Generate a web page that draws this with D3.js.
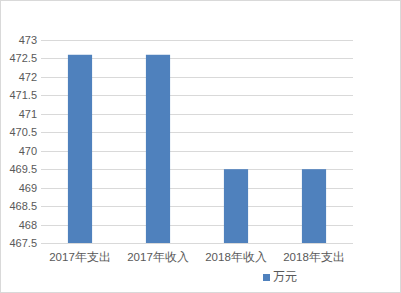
<!DOCTYPE html>
<html>
<head>
<meta charset="utf-8">
<script src="https://cdn.jsdelivr.net/npm/d3@7"></script>
<style>
  body { margin: 0; background: #fff; }
  svg { display: block; font-family: "Noto Sans CJK SC", "Noto Sans", sans-serif; }
</style>
</head>
<body>
<svg id="chart"></svg>
<script>
const categories = ["2017年支出", "2017年收入", "2018年收入", "2018年支出"];
const values = [472.6, 472.6, 469.5, 469.5];
const yTicks = [467.5, 468, 468.5, 469, 469.5, 470, 470.5, 471, 471.5, 472, 472.5, 473];
const seriesName = "万元";

const width = 401, height = 293;
const margin = {top: 40, right: 48, bottom: 50, left: 41};
const chartW = width - margin.left - margin.right;
const chartH = height - margin.top - margin.bottom;

const svg = d3.select("#chart").attr("width", width).attr("height", height);

// outer frame
svg.append("rect")
  .attr("x", 0.5).attr("y", 0.5)
  .attr("width", width - 1).attr("height", height - 1)
  .attr("fill", "#fff").attr("stroke", "#d9d9d9");

const g = svg.append("g").attr("transform", `translate(${margin.left},${margin.top})`);

const x = d3.scaleBand().domain(categories).range([0, chartW]).paddingInner(0.69).paddingOuter(0.345);
const y = d3.scaleLinear().domain([467.5, 473]).range([chartH, 0]);

// gridlines
g.selectAll(".grid")
  .data(yTicks)
  .enter().append("line")
  .attr("x1", 0).attr("x2", chartW)
  .attr("y1", d => Math.round(y(d)) + 0.5).attr("y2", d => Math.round(y(d)) + 0.5)
  .attr("stroke", "#d9d9d9");

// bars
g.selectAll(".bar")
  .data(values)
  .enter().append("rect")
  .attr("x", (d, i) => x(categories[i]))
  .attr("width", x.bandwidth())
  .attr("y", d => y(d))
  .attr("height", d => chartH - y(d))
  .attr("fill", "#4f81bd");

// baseline
g.append("line")
  .attr("x1", 0).attr("x2", chartW)
  .attr("y1", chartH + 0.5).attr("y2", chartH + 0.5)
  .attr("stroke", "#d9d9d9");

// y axis
const yAxis = g.append("g")
  .call(d3.axisLeft(y).tickValues(yTicks).tickSize(0).tickPadding(4).tickFormat(d => d));
yAxis.select(".domain").remove();
yAxis.selectAll("text").attr("fill", "#595959").style("font-size", "11px");

// x axis
const xAxis = g.append("g")
  .attr("transform", `translate(0,${chartH})`)
  .call(d3.axisBottom(x).tickSize(0).tickPadding(10));
xAxis.select(".domain").remove();
xAxis.selectAll("text").attr("fill", "#595959").style("font-size", "11.5px");

// legend
const legend = svg.append("g").attr("transform", "translate(263,274)");
legend.append("rect").attr("width", 7).attr("height", 7).attr("fill", "#4f81bd");
legend.append("text")
  .attr("x", 10).attr("y", 4)
  .attr("dominant-baseline", "middle")
  .attr("fill", "#595959").style("font-size", "12px")
  .text(seriesName);
</script>
</body>
</html>
